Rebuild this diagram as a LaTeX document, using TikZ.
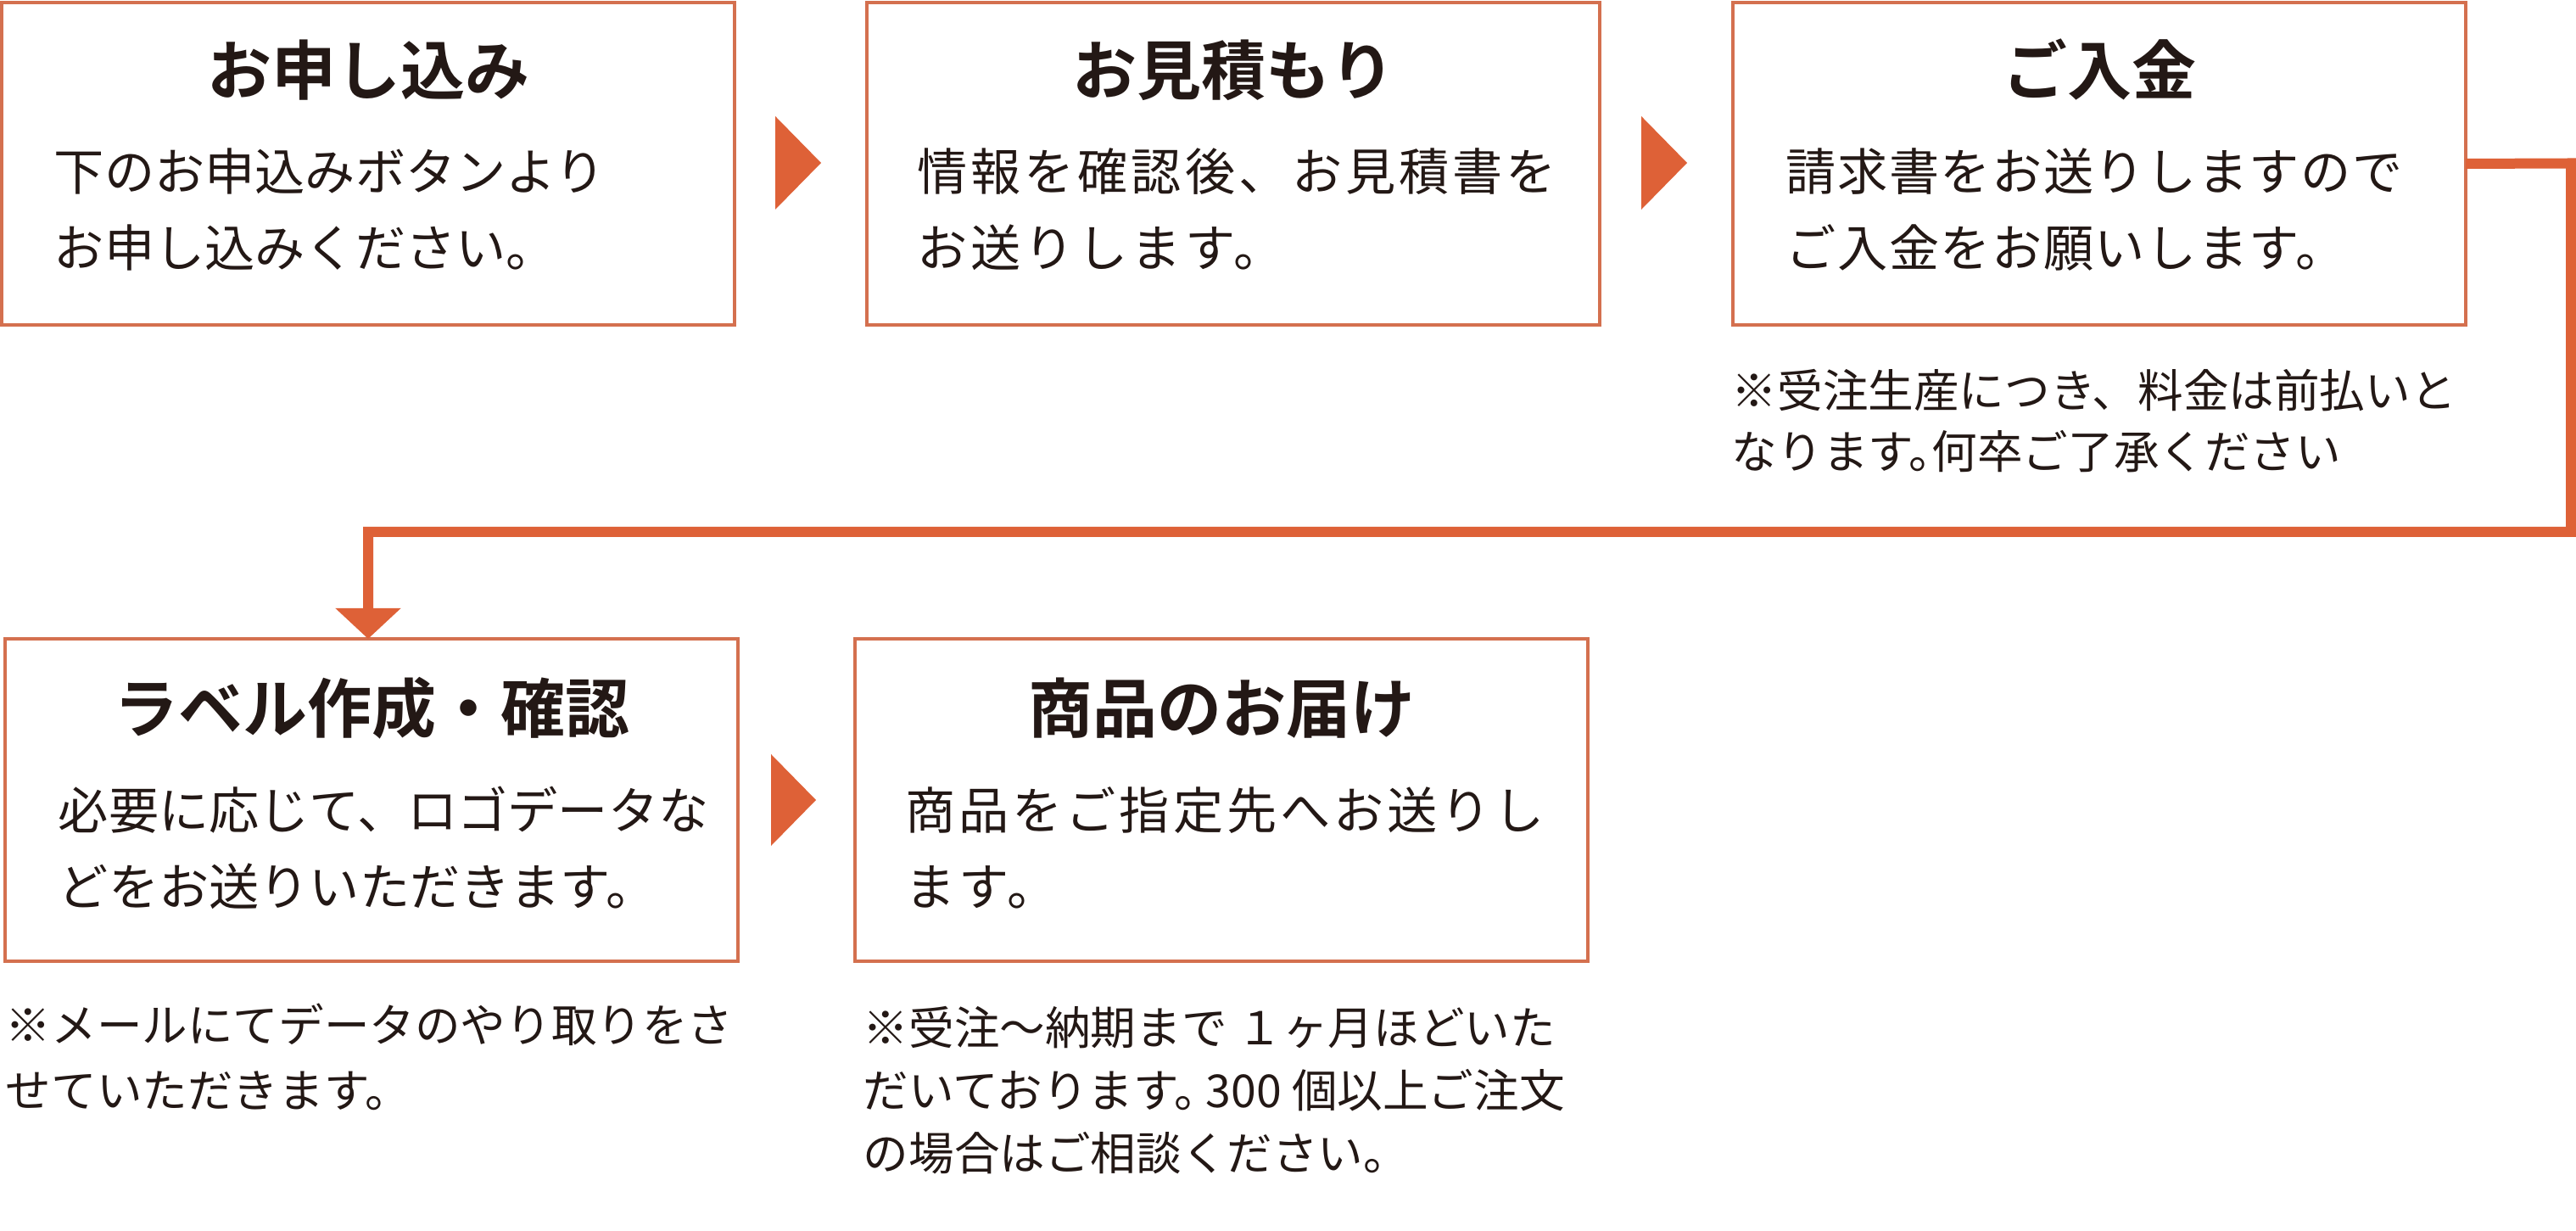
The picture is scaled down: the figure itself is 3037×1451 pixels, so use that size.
\documentclass[tikz,border=0pt]{standalone}
\usepackage{fontspec}
\setmainfont{Noto Sans CJK JP}[BoldFont={Noto Sans CJK JP Bold}]
\usetikzlibrary{arrows.meta}
\definecolor{accent}{HTML}{DE6137}
\definecolor{frame}{HTML}{D4704F}
\definecolor{ink}{HTML}{231815}
\begin{document}
\begin{tikzpicture}[x=0.25pt, y=-0.25pt,
  stepbox/.style={draw=frame, line width=1pt, minimum width=216pt, minimum height=95pt, inner sep=0pt, outer sep=0pt, anchor=north west},
  ttl/.style={text=ink, font=\bfseries\fontsize{19}{23}\selectfont, inner sep=0pt, anchor=base},
  bodytxt/.style={text=ink, font=\fontsize{14.8}{18}\selectfont, inner sep=0pt, anchor=base west},
  notetxt/.style={text=ink, font=\fontsize{13.4}{16}\selectfont, inner sep=0pt, anchor=base west},
  wide/.style={font=\fontsize{14.8}{18}\selectfont\addfontfeature{LetterSpace=6.5}},
  mid/.style={font=\fontsize{14.8}{18}\selectfont\addfontfeature{LetterSpace=2.5}},
  flow/.style={draw=accent, line width=3pt, line join=miter, -{Triangle[length=9pt, width=18.75pt]}},
  pointer/.style={fill=accent}
]
\fill[white] (0,0) rectangle (3037,1451);
\useasboundingbox (0,0) rectangle (3037,1451);

% boxes
\node[stepbox] (b1) at (2,3) {};
\node[stepbox] (b2) at (1022,3) {};
\node[stepbox] (b3) at (2043,3) {};
\node[stepbox] (b4) at (6,753) {};
\node[stepbox] (b5) at (1008,753) {};

% titles
\node[ttl] (t1) at (434,112) {お申し込み};
\node[ttl] (t2) at (1454,112) {お見積もり};
\node[ttl] (t3) at (2475,112) {ご入金};
\node[ttl] (t4) at (438,864) {ラベル作成・確認};
\node[ttl] (t5) at (1440,864) {商品のお届け};

% body texts
\node[bodytxt] (d1a) at (63,225) {下のお申込みボタンより};
\node[bodytxt] (d1b) at (63,315) {お申し込みください。};
\node[bodytxt, wide] (d2a) at (1081,225) {情報を確認後、お見積書を};
\node[bodytxt, wide] (d2b) at (1081,315) {お送りします。};
\node[bodytxt, mid] (d3a) at (2105,225) {請求書をお送りしますので};
\node[bodytxt, mid] (d3b) at (2105,315) {ご入金をお願いします。};
\node[bodytxt] (d4a) at (68,978) {必要に応じて、ロゴデータな};
\node[bodytxt] (d4b) at (68,1068) {どをお送りいただきます。};
\node[bodytxt, wide] (d5a) at (1067,978) {商品をご指定先へお送りし};
\node[bodytxt, wide] (d5b) at (1067,1068) {ます。};

% notes
\node[notetxt] (n3a) at (2041,481) {※受注生産につき、料金は前払いと};
\node[notetxt] (n3b) at (2041,553) {なります。\kern-0.5em 何卒ご了承ください};
\node[notetxt] (n4a) at (6,1228) {※メールにてデータのやり取りをさ};
\node[notetxt] (n4b) at (6,1305) {せていただきます。};
\node[notetxt] (n5a) at (1017,1231) {※受注〜納期まで １ヶ月ほどいた};
\node[notetxt] (n5b) at (1017,1305) {だいております。\kern-0.3em 300 個以上ご注文};
\node[notetxt] (n5c) at (1017,1379) {の場合はご相談ください。};

% step pointers
\fill[pointer] (914,137) -- (914,247) -- (968,192) -- cycle;
\fill[pointer] (1935,137) -- (1935,247) -- (1989,192) -- cycle;
\fill[pointer] (909,889) -- (909,997) -- (962,943) -- cycle;

% long connector
\coordinate (drop) at ([xshift=-1pt]b4.north);
\coordinate (r1) at (3031,192.5);
\coordinate (r2) at (3031,627);
\coordinate (r3) at (434,627);
\draw[flow] (b3.east) -- (r1) -- (r2) -- (r3) -- (drop);
\end{tikzpicture}
\end{document}
